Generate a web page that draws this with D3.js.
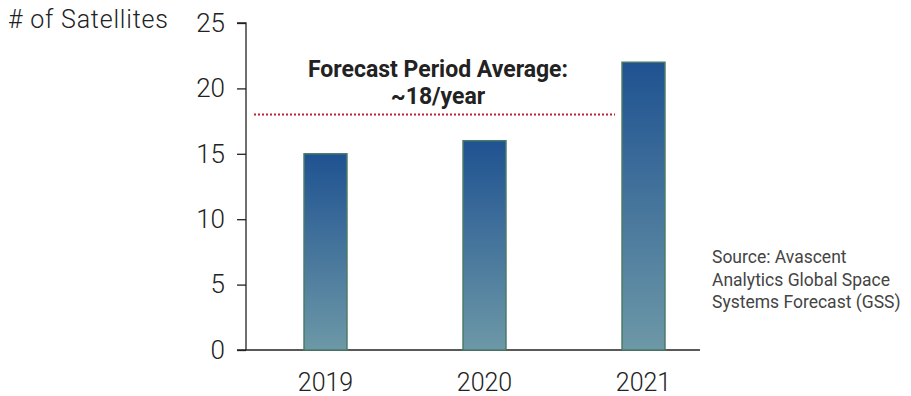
<!DOCTYPE html>
<html>
<head>
<meta charset="utf-8">
<script src="https://cdn.jsdelivr.net/npm/d3@7"></script>
<style>
  body { margin: 0; background: #fff; }
  text { font-family: Roboto, "DejaVu Sans", sans-serif; }
</style>
</head>
<body>
<div id="chart"></div>
<script>
// data
var years = ["2019", "2020", "2021"];
var satellites = [15, 16, 22];
var yTicks = [0, 5, 10, 15, 20, 25];
var forecastAvg = 18;
var sourceLines = ["Source: Avascent", "Analytics Global Space", "Systems Forecast (GSS)"];

var svgWidth = 911;
var svgHeight = 396;

var svg = d3.select("#chart")
  .append("svg")
  .attr("width", svgWidth)
  .attr("height", svgHeight);

var defs = svg.append("defs");
var grad = defs.append("linearGradient")
  .attr("id", "barGrad")
  .attr("x1", 0).attr("y1", 0).attr("x2", 0).attr("y2", 1);
grad.append("stop").attr("offset", "0%").attr("stop-color", "#1f5291");
grad.append("stop").attr("offset", "100%").attr("stop-color", "#6d98a7");

var xScale = d3.scaleBand()
  .domain(years)
  .range([246, 723])
  .paddingInner(0.73)
  .paddingOuter(0.365);

var yScale = d3.scaleLinear()
  .domain([0, 25])
  .range([350, 23]);

// y axis
var yAxis = d3.axisLeft(yScale)
  .tickValues(yTicks)
  .tickSize(9)
  .tickPadding(12);

var yG = svg.append("g")
  .attr("transform", "translate(246,0)")
  .call(yAxis);
yG.select(".domain").attr("d", "M-9," + yScale(25) + "H0V" + yScale(0)).attr("stroke", "#222").attr("stroke-width", 1.3);
yG.selectAll(".tick line").attr("stroke", "#222").attr("stroke-width", 1.3);
yG.selectAll(".tick text")
  .attr("font-size", 26)
  .attr("font-weight", 300)
  .attr("fill", "#222")
  .attr("font-family", "Roboto, sans-serif");

// x axis
var xAxis = d3.axisBottom(xScale).tickSize(0);
var xG = svg.append("g")
  .attr("transform", "translate(0," + yScale(0) + ")")
  .call(xAxis);
xG.select(".domain").attr("d", "M237,0H700").attr("stroke", "#222").attr("stroke-width", 1.3);
xG.selectAll(".tick text")
  .attr("y", 41)
  .attr("dy", null)
  .attr("font-size", 25)
  .attr("font-weight", 300)
  .attr("fill", "#222")
  .attr("font-family", "Roboto, sans-serif");

// bars
svg.selectAll(".bar")
  .data(satellites)
  .enter()
  .append("rect")
  .attr("class", "bar")
  .attr("x", (d, i) => xScale(years[i]))
  .attr("y", d => yScale(d))
  .attr("width", xScale.bandwidth())
  .attr("height", d => yScale(0) - yScale(d))
  .attr("fill", "url(#barGrad)")
  .attr("stroke", "#4a7a68")
  .attr("stroke-width", 1.5);

// y title
svg.append("text")
  .attr("x", 8)
  .attr("y", 28)
  .attr("font-size", 25)
  .attr("font-weight", 300)
  .attr("letter-spacing", 0.8)
  .attr("fill", "#222")
  .text("# of Satellites");

// forecast average line
svg.append("line")
  .attr("x1", 254)
  .attr("x2", 615)
  .attr("y1", yScale(forecastAvg))
  .attr("y2", yScale(forecastAvg))
  .attr("stroke", "#c0202e")
  .attr("stroke-width", 2)
  .attr("stroke-dasharray", "2,2");

var note = svg.append("text")
  .attr("x", 438)
  .attr("text-anchor", "middle")
  .attr("font-size", 23)
  .attr("font-weight", "bold")
  .attr("fill", "#222");
note.append("tspan").attr("x", 438).attr("y", 77).text("Forecast Period Average:");
note.append("tspan").attr("x", 438).attr("y", 104).text("~18/year");

// source
svg.selectAll(".src")
  .data(sourceLines)
  .enter()
  .append("text")
  .attr("class", "src")
  .attr("x", 712)
  .attr("y", (d, i) => 263 + i * 22.5)
  .attr("font-size", 17.5)
  .attr("fill", "#444")
  .text(d => d);
</script>
</body>
</html>
